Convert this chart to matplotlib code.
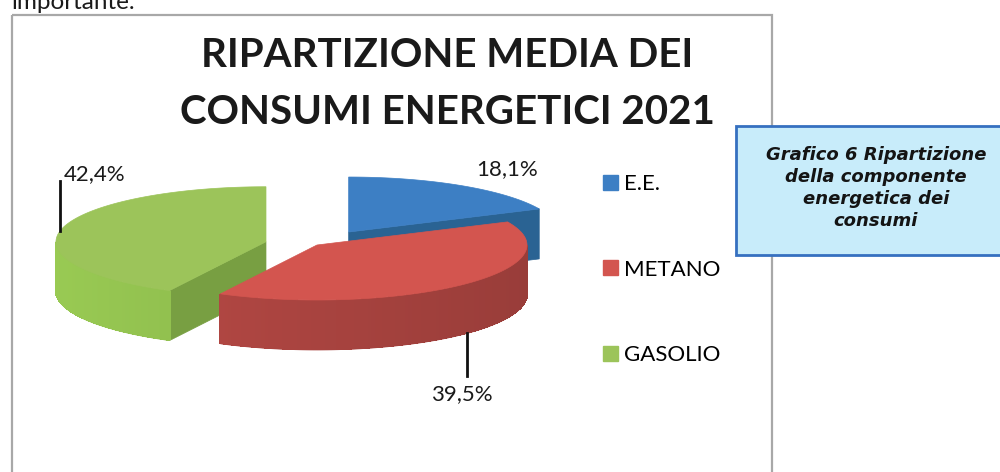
import numpy as np
import matplotlib
matplotlib.use('Agg')
import matplotlib.pyplot as plt
from matplotlib.patches import Polygon, Rectangle, Patch
from matplotlib.collections import PolyCollection
from matplotlib.colors import to_rgb

# ---------------- data ----------------
categories = ['E.E.', 'METANO', 'GASOLIO']
values = [18.1, 39.5, 42.4]
value_labels = ['18,1%', '39,5%', '42,4%']
title_lines = ['RIPARTIZIONE MEDIA DEI', 'CONSUMI ENERGETICI 2021']
caption_lines = ['Grafico 6 Ripartizione', 'della componente', 'energetica dei', 'consumi']
above_text = 'importante.'

# ---------------- style ----------------
top_colors = ['#3d7fc4', '#d3554f', '#9cc45a']
rim_colors = ['#30699a', '#a8433f', '#8cb94c']
cut_colors = ['#2a6393', '#9a3b38', '#789f42']
explode = [0.28, 0.0, 0.25]

fig = plt.figure(figsize=(10, 4.72), dpi=100)
ax = fig.add_axes([0, 0, 1, 1])
ax.set_xlim(0, 1000)
ax.set_ylim(472, 0)
ax.axis('off')

# chart frame and caption box
ax.add_patch(Rectangle((12, 15), 760, 500, fill=False, edgecolor='#a8a8a8', lw=1.6, zorder=1))
ax.add_patch(Rectangle((736, 126), 300, 129, facecolor='#c8ecfa', edgecolor='#3670c0', lw=2.0, zorder=5))
ax.text(876, 188, '\n'.join(caption_lines), ha='center', va='center', fontsize=13,
        fontweight='bold', style='italic', family='DejaVu Sans', color='#141414',
        linespacing=1.28, zorder=6)

ax.text(12, 9, above_text, ha='left', va='baseline', fontsize=17.5, family='Lato', color='#1a1a1a')

# title
ax.text(447, 67, title_lines[0], ha='center', va='baseline', fontsize=29, fontweight='bold',
        family='Lato', color='#1a1a1a')
ax.text(447, 124, title_lines[1], ha='center', va='baseline', fontsize=29, fontweight='bold',
        family='Lato', color='#1a1a1a')

# ---------------- 3D pie ----------------
CX, CY = 317, 245     # pie centre
A, B, D = 210, 55, 50  # semi-axes and thickness

fr = np.array(values) / np.sum(values)
ends = 2 * np.pi * np.cumsum(fr)
starts = ends - 2 * np.pi * fr
mids = (starts + ends) / 2
centres = [(CX + e * A * np.sin(m), CY - e * B * np.cos(m)) for e, m in zip(explode, mids)]


def rim(c, t):
    return np.column_stack([c[0] + A * np.sin(t), c[1] - B * np.cos(t)])


order = np.argsort([c[1] for c in centres])
for i in order:
    c = np.array(centres[i])
    t1, t2 = starts[i], ends[i]
    dz = np.array([0, D])
    # radial cut faces
    for t, vis in ((t1, np.sin(t1) < -1e-6), (t2, np.sin(t2) > 1e-6)):
        if vis:
            p = rim(c, np.array([t]))[0]
            ax.add_patch(Polygon([c, p, p + dz, c + dz], closed=True, facecolor=cut_colors[i],
                                 edgecolor=cut_colors[i], lw=0.5, zorder=2))
    # outer rim, shaded along its length
    lo, hi = max(t1, np.pi / 2), min(t2, 3 * np.pi / 2)
    if hi > lo:
        tt = np.linspace(lo, hi, 121)
        r = rim(c, tt)
        ax.add_patch(Polygon(np.vstack([r, (r + dz)[::-1]]), closed=True, facecolor=rim_colors[i],
                             edgecolor=rim_colors[i], lw=0.5, zorder=2))
        segs, cols = [], []
        base = np.array(to_rgb(rim_colors[i]))
        for k in range(len(tt) - 1):
            segs.append([r[k] + [0, 0.8], r[k + 1] + [0, 0.8], r[k + 1] + dz - [0, 0.8], r[k] + dz - [0, 0.8]])
            tm = 0.5 * (tt[k] + tt[k + 1])
            cols.append(np.clip(base * (1 - 0.09 * np.sin(tm)), 0, 1))
        ax.add_collection(PolyCollection(segs, facecolors=cols, edgecolors=cols, lw=0.8,
                                         antialiased=False, zorder=2))
    # top face
    tt = np.linspace(t1, t2, 200)
    ax.add_patch(Polygon(np.vstack([c, rim(c, tt)]), closed=True, facecolor=top_colors[i],
                         edgecolor=top_colors[i], lw=0.5, zorder=2))

# ---------------- value labels ----------------
lab_kw = dict(ha='center', va='baseline', fontsize=16, family='Lato', color='#1a1a1a', zorder=4)
ax.text(507, 175, value_labels[0], **lab_kw)
ax.text(462, 400, value_labels[1], **lab_kw)
ax.text(95, 180, value_labels[2], **lab_kw)

# leader lines attached to the slice rims
c = np.array(centres[1]); lx = 467
t = np.pi - np.arcsin((lx - c[0]) / A)
ax.plot([lx, lx], [rim(c, np.array([t]))[0][1] + D, 376], color='#111111', lw=2, zorder=4)
c = np.array(centres[2]); lx = 60
t = 2 * np.pi + np.arcsin((lx - c[0]) / A)
ax.plot([lx, lx], [rim(c, np.array([t]))[0][1], 181], color='#111111', lw=2, zorder=4)

# ---------------- legend ----------------
handles = [Patch(facecolor=col, edgecolor=col, label=lab) for col, lab in zip(top_colors, categories)]
ax.legend(handles=handles, loc='upper left', bbox_to_anchor=(603 / 1000, 1 - 174 / 472),
          frameon=False, prop={'family': 'Lato', 'size': 16},
          labelspacing=2.95, handlelength=0.66, handleheight=0.66, handletextpad=0.3,
          borderpad=0, borderaxespad=0)

fig.savefig('out.png', dpi=100)
